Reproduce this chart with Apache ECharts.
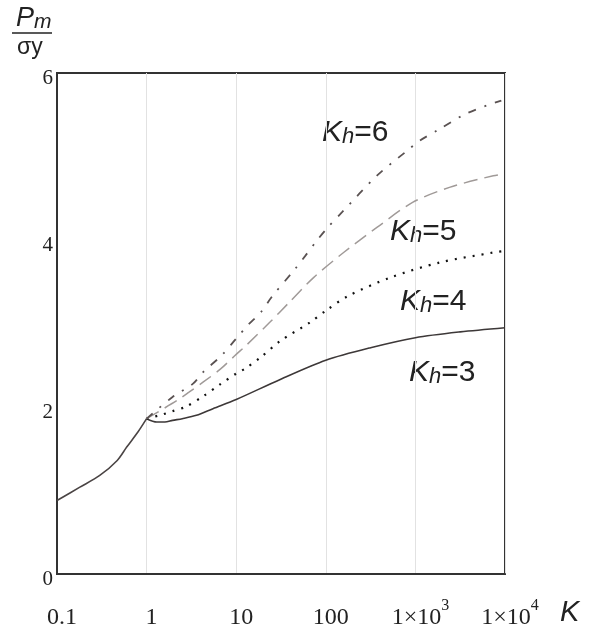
<!DOCTYPE html>
<html>
<head>
<meta charset="utf-8">
<script src="https://cdn.jsdelivr.net/npm/echarts@6/dist/echarts.min.js"></script>
<style>
  html, body { margin: 0; padding: 0; background: #fff; }
  #echarts { width: 590px; height: 632px; }
</style>
</head>
<body>
<div id="echarts"></div>
<script>
// values (K on log axis, Pm/σy)
var kCommon = [0.1, 0.18, 0.3, 0.47, 0.6, 0.8, 1];
var pmCommon = [0.88, 1.04, 1.18, 1.36, 1.52, 1.70, 1.86];

var k3 = [1, 1.3, 1.6, 1.95, 2.5, 3.6, 5.5, 10, 31, 100, 316, 1000, 3162, 10000];
var pm3 = [1.86, 1.82, 1.82, 1.84, 1.86, 1.90, 1.98, 2.09, 2.33, 2.56, 2.71, 2.83, 2.90, 2.95];

var k4 = [1, 1.5, 1.95, 2.7, 4.3, 6.6, 10, 12.6, 18.5, 31, 66, 102, 178, 525, 1860, 7400, 10000];
var pm4 = [1.86, 1.91, 1.95, 2.0, 2.13, 2.27, 2.40, 2.46, 2.59, 2.79, 3.01, 3.16, 3.33, 3.55, 3.73, 3.85, 3.87];

var k5 = [1, 2.2, 3, 4.3, 6.6, 10, 13, 24, 38, 73, 158, 372, 930, 2400, 7400, 10000];
var pm5 = [1.86, 2.08, 2.18, 2.30, 2.45, 2.63, 2.74, 3.02, 3.24, 3.55, 3.85, 4.15, 4.45, 4.63, 4.77, 4.79];

var k6 = [1, 1.95, 3.3, 4.3, 6.9, 10, 13.5, 19, 25, 46, 59, 79, 105, 151, 372, 810, 1120, 1740, 3800, 9100];
var pm6 = [1.86, 2.12, 2.28, 2.42, 2.62, 2.82, 2.98, 3.14, 3.32, 3.66, 3.81, 3.99, 4.15, 4.33, 4.77, 5.07, 5.19, 5.31, 5.52, 5.67];

var xTicks = ['{n|0.1}', '{n|1}', '{n|10}', '{n|100}', '{n|1×10}{s|3}', '{n|1×10}{s|4}'];
var curveNames = ['Kh=3', 'Kh=4', 'Kh=5', 'Kh=6'];

function pairs(ks, vs) {
    return ks.map(function (k, i) { return [k, vs[i]]; });
}

var myChart = echarts.init(document.getElementById('echarts'));

var serif = '"Liberation Serif", "Times New Roman", serif';
var sans = '"Liberation Sans", Arial, sans-serif';

function khLabel(x, y, n) {
    return {
        type: 'text', left: x, top: y,
        style: {
            text: '{k|K}{h|h}{e|=' + n + '}',
            rich: {
                k: { fontFamily: sans, fontStyle: 'italic', fontSize: 30, fill: '#222' },
                h: { fontFamily: sans, fontStyle: 'italic', fontSize: 22, fill: '#222', padding: [7, 0, 0, 0] },
                e: { fontFamily: sans, fontSize: 30, fill: '#222' }
            }
        }
    };
}

var option = {
    backgroundColor: '#fff',
    animation: false,
    grid: {
        left: 57, right: 85, top: 73, bottom: 58,
        show: true,
        borderColor: '#333',
        borderWidth: 2,
        backgroundColor: 'transparent'
    },
    xAxis: {
        type: 'log',
        logBase: 10,
        min: 0.1,
        max: 10000,
        axisLine: { show: true, lineStyle: { color: '#333', width: 2 } },
        axisTick: { show: false },
        splitLine: { show: true, lineStyle: { color: '#e2e2e2', width: 1 } },
        axisLabel: {
            margin: 24,
            padding: [0, 0, 0, 10],
            color: '#222',
            formatter: function (v) {
                var i = Math.round(Math.log(v) / Math.LN10) + 1;
                return xTicks[i];
            },
            rich: {
                n: { fontFamily: serif, fontSize: 24, color: '#222', lineHeight: 32, verticalAlign: 'bottom' },
                s: { fontFamily: serif, fontSize: 16, color: '#222', lineHeight: 32, verticalAlign: 'top' }
            }
        }
    },
    yAxis: {
        type: 'value',
        min: 0,
        max: 6,
        interval: 2,
        axisLine: { show: true, lineStyle: { color: '#333', width: 2 } },
        axisTick: { show: false },
        splitLine: { show: false },
        axisLabel: {
            margin: 4,
            fontFamily: serif,
            fontSize: 21,
            color: '#222',
            verticalAlign: 'top',
            padding: [-5, 0, 0, 0]
        }
    },
    series: [
        {
            name: 'common', type: 'line', data: pairs(kCommon, pmCommon),
            showSymbol: false, smooth: 0.3,
            lineStyle: { color: '#4a4444', width: 1.6 }
        },
        {
            name: curveNames[0], type: 'line', data: pairs(k3, pm3),
            showSymbol: false, smooth: 0.3,
            lineStyle: { color: '#3d3838', width: 1.6 }
        },
        {
            name: curveNames[1], type: 'line', data: pairs(k4, pm4),
            showSymbol: false, smooth: 0.3,
            lineStyle: { color: '#111', width: 2.2, type: [2, 7] }
        },
        {
            name: curveNames[2], type: 'line', data: pairs(k5, pm5),
            showSymbol: false, smooth: 0.3,
            lineStyle: { color: '#a09a98', width: 1.5, type: [14, 7] }
        },
        {
            name: curveNames[3], type: 'line', data: pairs(k6, pm6),
            showSymbol: false, smooth: 0.3,
            lineStyle: { color: '#5a5252', width: 1.8, type: [8, 9, 2, 9] }
        }
    ],
    graphic: [
        {
            type: 'text', left: 16, top: 5,
            style: {
                text: '{p|P}{m|m}',
                rich: {
                    p: { fontFamily: sans, fontStyle: 'italic', fontSize: 27, fill: '#222' },
                    m: { fontFamily: sans, fontStyle: 'italic', fontSize: 21, fill: '#222', padding: [8, 0, 0, 0] }
                }
            }
        },
        {
            type: 'line',
            shape: { x1: 12, y1: 33, x2: 52, y2: 33 },
            style: { stroke: '#222', lineWidth: 1.5 }
        },
        {
            type: 'text', left: 17, top: 36,
            style: { text: 'σy', fontFamily: sans, fontSize: 23, fill: '#222' }
        },
        {
            type: 'text', left: 560, top: 598,
            style: { text: 'K', fontFamily: sans, fontStyle: 'italic', fontSize: 29, fill: '#222' }
        },
        khLabel(322, 118, 6),
        khLabel(390, 217, 5),
        khLabel(400, 287, 4),
        khLabel(409, 358, 3)
    ]
};

myChart.setOption(option);
</script>
</body>
</html>
